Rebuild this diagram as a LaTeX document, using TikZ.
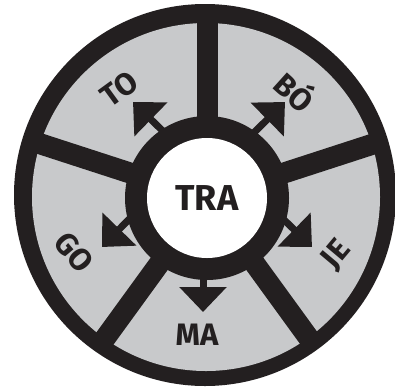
\documentclass[tikz,border=0pt]{standalone}
\usepackage{fontspec}
\setmainfont{Fira Sans}
\usetikzlibrary{arrows.meta}
\definecolor{ink}{HTML}{231F20}
\definecolor{sector}{HTML}{C8C9CB}
\tikzset{
  divider/.style={ink, line width=21pt},
  outarrow/.style={ink, line width=7pt, -{Triangle[length=25pt,width=46pt]}},
  lbl/.style={font=\bfseries\fontsize{31}{31}\selectfont, text=ink, inner sep=0pt},
}
\begin{document}
\begin{tikzpicture}[x=1pt,y=-1pt]
\useasboundingbox (0,0) rectangle (395,389);
\clip (0,0) rectangle (395,389);
\coordinate (c) at (207,198);
% outer disk and sectors
\fill[ink] (205,195) circle[radius=191];
\fill[sector] (206,197) circle[radius=174];
% dividers
\foreach \a in {90,18,162,-54,-126}
  \draw[divider] (c) -- ++({cos(\a)*185},{-sin(\a)*185});
% inner ring
\fill[ink] (c) circle[radius=82];
% arrows
\coordinate (to1) at (168.7,136.7); \coordinate (to2) at (133,102);
\coordinate (bo1) at (249.8,136.7); \coordinate (bo2) at (285,102);
\coordinate (go1) at (136.7,211.3); \coordinate (go2) at (102,247);
\coordinate (je1) at (276.3,212.3); \coordinate (je2) at (312,247);
\coordinate (ma1) at (203,262);     \coordinate (ma2) at (203,312);
\draw[outarrow] (to1) -- (to2);
\draw[outarrow] (bo1) -- (bo2);
\draw[outarrow] (go1) -- (go2);
\draw[outarrow] (je1) -- (je2);
\draw[outarrow] (ma1) -- (ma2);
% centre
\node[circle, fill=white, minimum size=120pt, inner sep=0pt,
      font=\bfseries\fontsize{36}{36}\selectfont, text=ink] (tra) at (c) {TRA};
% labels
\node[lbl, rotate=36]  (to) at (119,89)  {TO};
\node[lbl, rotate=-42] (bo) at (296,90)  {BÓ};
\node[lbl, rotate=-50] (go) at (74,252)  {GO};
\node[lbl, rotate=50]  (je) at (337,255) {JE};
\node[lbl]             (ma) at (197,335) {MA};
\end{tikzpicture}
\end{document}
